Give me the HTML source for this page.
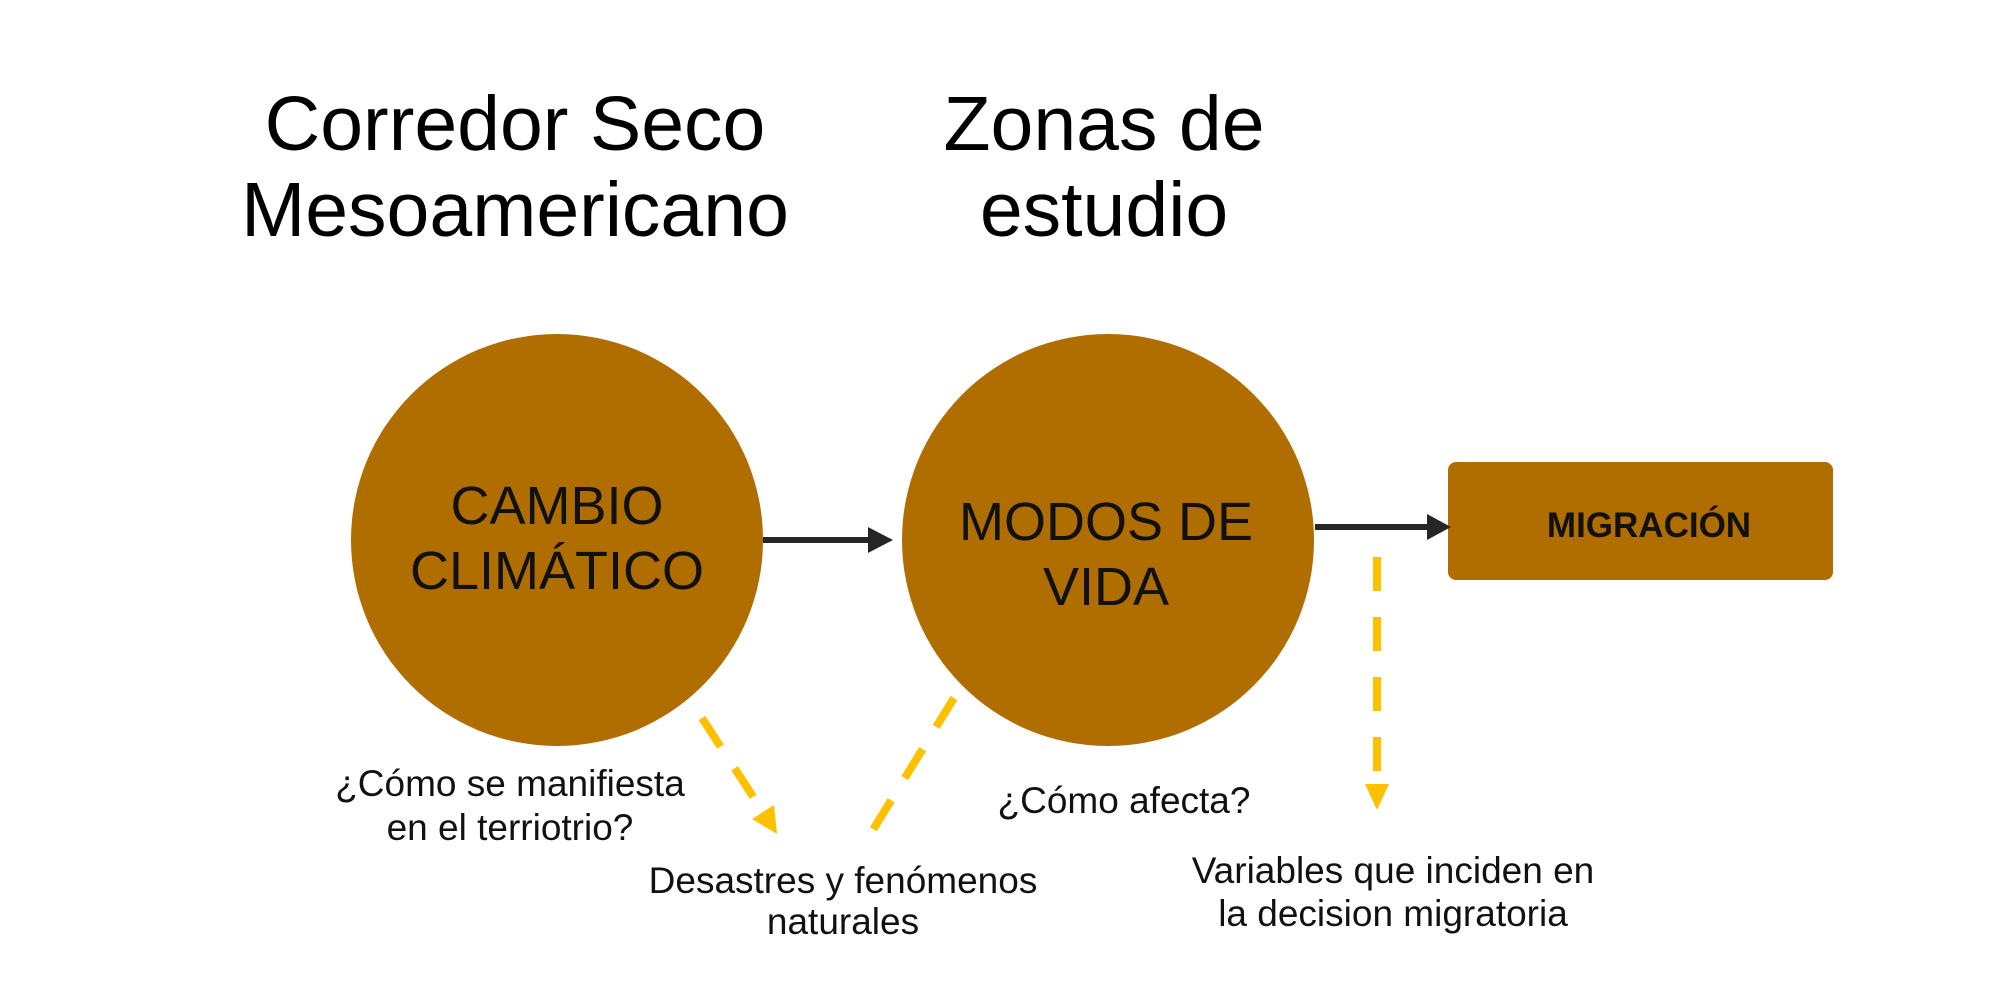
<!DOCTYPE html>
<html><head><meta charset="utf-8"><style>
html,body{margin:0;padding:0;background:#fff;}
svg{display:block;font-family:"Liberation Sans",sans-serif;}
</style></head><body>
<svg width="2000" height="1000" viewBox="0 0 2000 1000">
<rect width="2000" height="1000" fill="#fff"/>
<g font-size="77" fill="#000" text-anchor="middle">
<text x="515" y="150">Corredor Seco</text>
<text x="515" y="236">Mesoamericano</text>
<text x="1104" y="150">Zonas de</text>
<text x="1104" y="236">estudio</text>
</g>
<circle cx="557" cy="540" r="206" fill="#B06D00"/>
<circle cx="1108" cy="540" r="206" fill="#B06D00"/>
<rect x="1448" y="462" width="385" height="118" rx="8" fill="#B06D00"/>
<g font-size="54" fill="#111" text-anchor="middle">
<text x="557" y="524">CAMBIO</text>
<text x="557" y="589">CLIMÁTICO</text>
<text x="1106" y="540">MODOS DE</text>
<text x="1106" y="605">VIDA</text>
</g>
<text x="1649" y="537" font-size="35" font-weight="bold" text-anchor="middle" fill="#111">MIGRACIÓN</text>
<g fill="#262626">
<rect x="763" y="537" width="108" height="6"/>
<polygon points="868,527 893,540 868,553"/>
<rect x="1315" y="524" width="115" height="6"/>
<polygon points="1427,514 1451,527 1427,540"/>
</g>
<g stroke="#FFC000" stroke-width="8" fill="none" stroke-dasharray="34,26">
<line x1="1377" y1="557" x2="1377" y2="782"/>
<line x1="702" y1="718" x2="763" y2="812"/>
<line x1="954" y1="698" x2="871" y2="833"/>
</g>
<g fill="#FFC000">
<polygon points="1365,784 1389,784 1377,810"/>
<polygon points="774,805 752,819 777,834"/>
</g>
<g font-size="37" fill="#111" text-anchor="middle">
<text x="510" y="796">¿Cómo se manifiesta</text>
<text x="510" y="840">en el terriotrio?</text>
<text x="843" y="893">Desastres y fenómenos</text>
<text x="843" y="934">naturales</text>
<text x="1124" y="813">¿Cómo afecta?</text>
<text x="1393" y="883">Variables que inciden en</text>
<text x="1393" y="926">la decision migratoria</text>
</g>
</svg>
</body></html>
